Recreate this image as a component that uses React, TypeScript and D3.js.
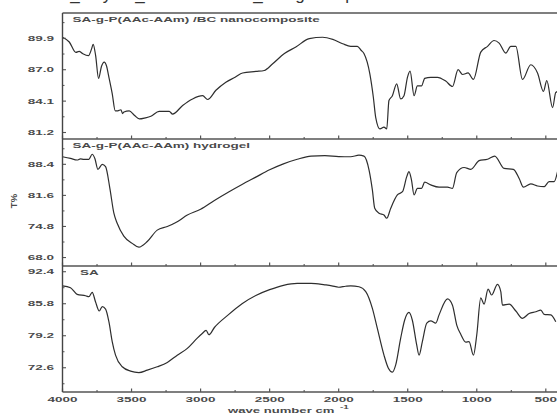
import React from "react";
import * as d3 from "d3";

// ---------- data (wavenumber cm-1, transmittance %) ----------
const nanoWN = [4000,3951,3903,3880,3855,3812,3790,3778,3760,3739,3718,3698,3680,3667,3640,3618,3600,3577,3565,3555,3517,3480,3444,3400,3360,3300,3227,3203,3130,3058,2985,2949,2889,2817,2750,2696,2599,2539,2478,2393,2310,2213,2116,2043,1971,1913,1865,1838,1817,1774,1749,1732,1701,1672,1652,1636,1611,1580,1551,1527,1502,1483,1454,1430,1400,1377,1333,1285,1225,1176,1135,1103,1063,1024,971,922,875,838,790,754,717,669,609,560,517,493,451,428,410];
const nanoT = [90.0,89.56,88.6,88.7,88.5,88.3,88.9,89.35,88.3,86.2,87.3,87.7,87.3,86.5,84.8,83.2,83.2,83.3,82.95,83.1,83.2,82.8,82.45,82.55,82.7,83.15,83.15,82.9,83.7,84.3,84.6,84.25,85.1,85.85,86.3,86.7,86.84,86.93,87.55,88.5,89.1,89.87,90.0,89.8,89.4,89.16,89.16,88.8,88.5,86.6,84.46,82.6,81.53,81.7,81.53,84.15,84.6,85.7,84.3,84.6,86.3,86.87,84.6,85.5,85.5,86.2,86.3,86.3,85.95,85.45,87.0,86.56,86.7,86.1,88.63,89.16,89.7,89.46,88.54,89.16,89.16,86.1,87.46,86.7,85.0,86.0,83.5,84.9,85.0];

const hydroWN = [4000,3942,3894,3870,3846,3809,3785,3765,3744,3712,3688,3657,3628,3604,3556,3495,3447,3386,3314,3241,3169,3096,3000,2900,2800,2700,2600,2500,2400,2300,2200,2100,2000,1913,1853,1817,1780,1756,1739,1708,1672,1652,1623,1575,1538,1507,1491,1473,1454,1430,1400,1377,1333,1273,1212,1176,1145,1092,1043,983,922,870,802,735,693,662,609,560,512,476,440,415];
const hydroT = [90.06,89.7,89.34,89.6,89.5,89.5,90.6,89.6,87.3,88.4,87.9,83.15,77.7,75.5,72.7,71.1,70.26,71.5,74.0,74.8,75.85,77.3,78.56,80.5,82.3,84.0,85.6,87.2,88.5,89.5,90.2,90.3,90.1,90.06,90.4,90.2,87.15,82.8,78.8,77.7,77.3,76.6,78.8,81.7,82.4,85.7,86.8,85.0,81.7,83.15,83.15,84.5,83.9,83.4,83.4,83.15,86.6,87.7,87.3,89.2,89.5,90.2,87.5,87.3,85.3,83.4,84.1,83.65,83.5,84.6,84.6,86.8];

const saWN = [4000,3942,3894,3833,3809,3785,3761,3734,3712,3688,3664,3640,3616,3567,3507,3447,3386,3314,3241,3169,3096,3024,2990,2960,2940,2900,2800,2700,2600,2500,2400,2300,2200,2100,2050,2000,1950,1913,1853,1804,1756,1720,1672,1640,1611,1587,1551,1522,1491,1467,1435,1418,1394,1362,1333,1297,1273,1212,1176,1145,1116,1080,1056,1024,1000,971,947,918,893,850,826,814,765,717,669,621,572,536,512,464,428];
const saT = [89.5,89.1,87.74,87.45,87.25,88.16,86.2,84.3,85.2,84.7,82.1,78.0,75.2,72.8,71.9,71.6,72.1,72.8,73.7,75.2,76.6,78.7,79.6,80.3,79.4,80.9,83.5,85.8,87.5,88.7,89.6,90.0,90.0,89.7,89.5,89.2,89.4,89.5,89.3,88.3,84.85,80.7,75.2,72.5,71.7,73.2,78.7,82.45,84.0,82.45,77.3,75.2,78.0,81.8,82.25,81.8,83.5,86.8,85.5,81.4,79.5,77.9,78.0,75.2,79.4,87.0,85.7,88.8,87.6,89.8,88.3,85.5,85.7,84.3,82.8,83.8,84.15,84.5,83.6,83.5,82.1];

const xTicks = [4000, 3500, 3000, 2500, 2000, 1500, 1000, 500];
const nanoTicks = [89.9, 87.0, 84.1, 81.2];
const hydroTicks = [88.4, 81.6, 74.8, 68.0];
const saTicks = [92.4, 85.8, 79.2, 72.6];
const panelTitles = ["SA-g-P(AAc-AAm) /BC nanocomposite", "SA-g-P(AAc-AAm) hydrogel", "SA"];
const topFragments = ["_", "y", "_", "_", "g", "p"];

// ---------- layout ----------
const W = 557, H = 414;
const left = 62.5;
const xScale = d3.scaleLinear().domain([4000, 419]).range([left, 557]);

const panels = [
  { wn: nanoWN, t: nanoT, ticks: nanoTicks, step: 2.9, top: 13, bottom: 139, dom: [80.6, 92.24], title: panelTitles[0] },
  { wn: hydroWN, t: hydroT, ticks: hydroTicks, step: 6.8, top: 139, bottom: 266, dom: [66.15, 93.94], title: panelTitles[1] },
  { wn: saWN, t: saT, ticks: saTicks, step: 6.6, top: 266, bottom: 392, dom: [67.6, 93.58], title: panelTitles[2] },
];

const FONT = "'Liberation Sans', Arial, sans-serif";
const TXT = "#4a4a4a";
const SX = 1.8;

function SText({ x, y, anchor = "start", size = 7.5, children }: any) {
  return (
    <text
      transform={`translate(${x},${y}) scale(${SX},1)`}
      textAnchor={anchor}
      fontFamily={FONT}
      fontWeight="bold"
      fontSize={size}
      fill={TXT}
    >
      {children}
    </text>
  );
}

export default function App() {
  const minorX = d3.range(3750, 400, -500);
  const fragX = [75, 107, 140, 258, 300, 350];
  return (
    <svg width={W} height={H} style={{ position: "absolute", left: 0, top: 0, background: "#fff" }}>
      {/* cut-off caption fragments at the very top */}
      {topFragments.map((c, i) => (
        <text key={i} x={fragX[i]} y={-0.5} textAnchor="middle" fontFamily={FONT} fontSize={17} fill="#333">
          {c}
        </text>
      ))}

      {panels.map((p, pi) => {
        const y = d3.scaleLinear().domain(p.dom).range([p.bottom, p.top]);
        const line = d3
          .line<number>()
          .x((_, i) => xScale(p.wn[i]))
          .y((d) => y(d))
          .curve(d3.curveMonotoneX);
        const minorY: number[] = [];
        for (let k = -3; k < 8; k++) {
          const v = p.ticks[0] + p.step / 2 - k * p.step;
          if (v > p.dom[0] && v < p.dom[1] && !p.ticks.some((t) => Math.abs(t - v) < 1e-6)) minorY.push(v);
        }
        return (
          <g key={pi}>
            <path d={line(p.t) || ""} fill="none" stroke="#2e2e2e" strokeWidth={1.2} strokeLinejoin="round" />
            {/* bottom axis of panel */}
            <line x1={left} x2={W} y1={p.bottom} y2={p.bottom} stroke="#555" strokeWidth={1.4} />
            {xTicks.map((t) => (
              <line key={t} x1={xScale(t)} x2={xScale(t)} y1={p.bottom} y2={p.bottom - 3.5} stroke="#555" strokeWidth={1.2} />
            ))}
            {minorX.map((t) => (
              <line key={"m" + t} x1={xScale(t)} x2={xScale(t)} y1={p.bottom} y2={p.bottom - 2} stroke="#555" strokeWidth={1.1} />
            ))}
            {/* left ticks */}
            {p.ticks.map((t) => (
              <g key={t}>
                <line x1={left} x2={left + 3.5} y1={y(t)} y2={y(t)} stroke="#555" strokeWidth={1.1} />
                <SText x={54} y={y(t) + 2.7} anchor="end">
                  {t.toFixed(1)}
                </SText>
              </g>
            ))}
            {minorY.map((t) => (
              <line key={"my" + t} x1={left} x2={left + 2} y1={y(t)} y2={y(t)} stroke="#555" strokeWidth={1} />
            ))}
            <SText x={pi === 2 ? 80 : 72.5} y={p.top + 9}>
              {p.title}
            </SText>
          </g>
        );
      })}

      {/* frame top & left */}
      <line x1={left} x2={W} y1={13} y2={13} stroke="#555" strokeWidth={1.3} />
      <line x1={left} x2={left} y1={13} y2={392} stroke="#444" strokeWidth={1.4} />

      {/* x tick labels */}
      {xTicks.map((t) => (
        <SText key={t} x={xScale(t)} y={401.5} anchor="middle">
          {String(t)}
        </SText>
      ))}
      <g transform={`translate(228,413) scale(1.75,1)`}>
        <text fontFamily={FONT} fontWeight="bold" fontSize={7.5} fill={TXT}>
          wave number cm
        </text>
      </g>
      <SText x={340} y={408.5} size={5.5}>-1</SText>

      {/* y label */}
      <text
        transform="translate(17,201) rotate(-90)"
        textAnchor="middle"
        fontFamily={FONT}
        fontWeight="bold"
        fontSize={9.5}
        fill={TXT}
      >
        T%
      </text>
    </svg>
  );
}
